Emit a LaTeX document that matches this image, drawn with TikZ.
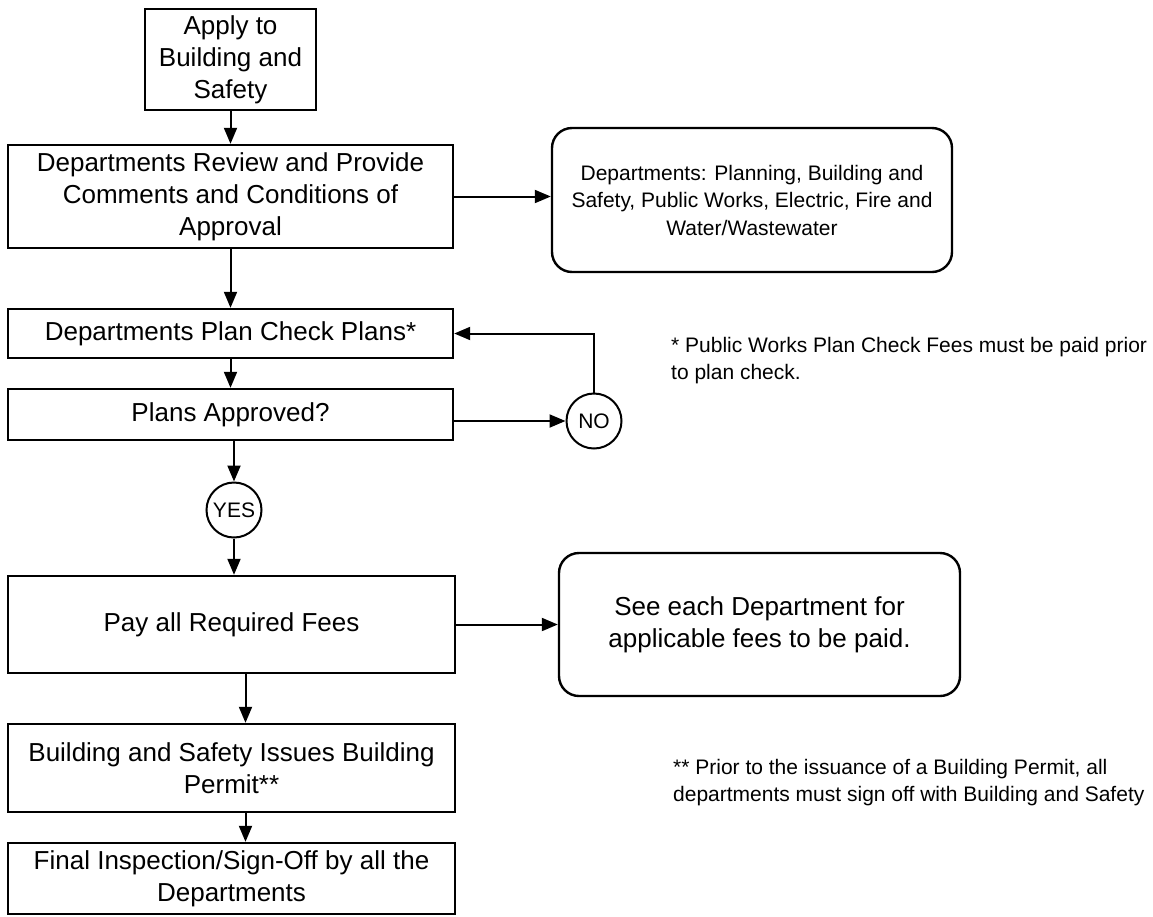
\documentclass[tikz,border=0pt]{standalone}
\usepackage{fontspec}
\setmainfont{Liberation Sans}
\usetikzlibrary{arrows.meta}
\begin{document}
\begin{tikzpicture}[x=1pt, y=-1pt,
  flowbox/.style={draw, line width=2.4pt, inner sep=0pt, align=center, font=\fontsize{26}{32}\selectfont},
  infobox/.style={flowbox, rounded corners=20pt, font=\fontsize{21}{27.5}\selectfont},
  answer/.style={draw, circle, line width=2pt, inner sep=0pt, minimum size=55pt, font=\fontsize{21}{21}\selectfont},
  remark/.style={align=left, inner sep=0pt, anchor=north west, font=\fontsize{21}{27}\selectfont},
  flow/.style={-{Triangle[length=16pt,width=13pt]}, line width=2pt}]
\useasboundingbox (0,0) rectangle (1153,916);
% main column
\node[flowbox, minimum width=171pt, minimum height=101pt] (apply) at (230.5,59.5) {Apply to\\Building and\\Safety};
\node[flowbox, minimum width=445pt, minimum height=103pt] (review) at (230.5,196.5) {Departments Review and Provide\\Comments and Conditions of\\Approval};
\node[flowbox, minimum width=445pt, minimum height=49pt] (check) at (230.5,333.5) {Departments Plan Check Plans*};
\node[flowbox, minimum width=445pt, minimum height=51pt] (approved) at (230.5,414.5) {Plans Approved?};
\node[answer] (no) at (594,421) {NO};
\node[answer] (yes) at (234,510) {YES};
\node[flowbox, minimum width=447pt, minimum height=97pt] (fees) at (231.5,624.5) {Pay all Required Fees};
\node[flowbox, minimum width=447pt, minimum height=88pt] (permit) at (231.5,768) {Building and Safety Issues Building\\Permit**};
\node[flowbox, minimum width=447pt, minimum height=71pt] (final) at (231.5,878.5) {Final Inspection/Sign-Off by all the\\Departments};
% side boxes and notes
\node[infobox, minimum width=400pt, minimum height=144pt] (depts) at (752,200) {Departments: Planning, Building and\\Safety, Public Works, Electric, Fire and\\Water/Wastewater};
\node[infobox, font=\fontsize{26}{32}\selectfont, minimum width=401pt, minimum height=143pt] (feenote) at (759.5,624.5) {See each Department for\\applicable fees to be paid.};
\node[remark] (noteone) at (671,337) {* Public Works Plan Check Fees must be paid prior\\to plan check.};
\node[remark] (notetwo) at (673,759) {** Prior to the issuance of a Building Permit, all\\departments must sign off with Building and Safety};
% arrows
\draw[flow] (apply) -- (review);
\draw[flow] (review.east) -- (review.east -| depts.west);
\draw[flow] (review) -- (check);
\draw[flow] (check) -- (approved);
\draw[flow] (approved.east |- no) -- (no);
\draw[flow] (no) |- (check);
\draw[flow] (approved.south -| yes) -- (yes);
\draw[flow] (yes) -- (yes |- fees.north);
\draw[flow] (fees.east) -- (fees.east -| feenote.west);
\draw[flow] ([xshift=14pt]fees.south) -- ([xshift=14pt]permit.north);
\draw[flow] ([xshift=14pt]permit.south) -- ([xshift=14pt]final.north);
\end{tikzpicture}
\end{document}
